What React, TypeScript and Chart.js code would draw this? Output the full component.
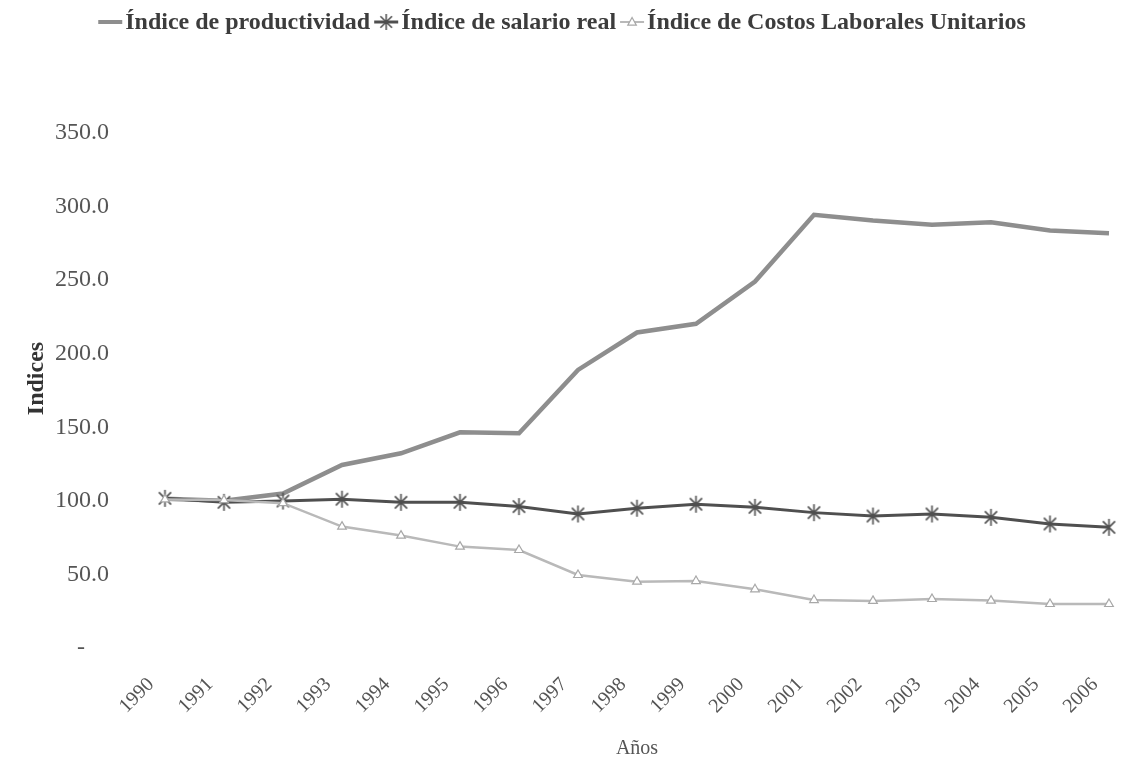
import React, { useEffect, useRef } from "react";
import { Chart, registerables } from "chart.js";

Chart.register(...registerables);

const years = ["1990","1991","1992","1993","1994","1995","1996","1997","1998","1999","2000","2001","2002","2003","2004","2005","2006"];
const productividad = [101.5, 100.0, 105.0, 124.4, 132.3, 146.6, 146.0, 189.0, 214.4, 220.3, 249.0, 294.4, 290.5, 287.6, 289.4, 283.7, 281.9];
const salarioReal = [101.7, 99.0, 99.9, 101.1, 99.0, 99.0, 96.1, 91.1, 95.0, 97.7, 95.6, 92.0, 89.7, 91.1, 88.8, 84.3, 82.0];
const costosLaborales = [101.0, 100.5, 98.4, 82.5, 76.4, 68.9, 66.6, 49.6, 45.1, 45.5, 39.9, 32.6, 32.0, 33.3, 32.2, 29.9, 29.9];
const seriesNames = ["Índice de productividad", "Índice de salario real", "Índice de Costos Laborales Unitarios"];
const yTicks = { min: 0, max: 350, step: 50 };
const yTitle = "Indices";
const xTitle = "Años";

const FONT = "'Liberation Serif', 'Times New Roman', serif";
const C_PROD = "#8e8e8e";
const C_SAL = "#4f4f4f";
const C_COST = "#b9b9b9";

function makeStar(color: string, size: number, lw: number): HTMLCanvasElement {
  const c = document.createElement("canvas");
  c.width = size;
  c.height = size;
  const g = c.getContext("2d")!;
  g.strokeStyle = color;
  g.lineWidth = lw;
  const m = size / 2;
  const r = size / 2 - 1;
  const d = r * 0.72;
  g.beginPath();
  g.moveTo(m, m - r); g.lineTo(m, m + r);
  g.moveTo(m - d, m - d); g.lineTo(m + d, m + d);
  g.moveTo(m - d, m + d); g.lineTo(m + d, m - d);
  g.stroke();
  return c;
}

function drawTriangle(ctx: CanvasRenderingContext2D, x: number, y: number, r: number, stroke: string) {
  ctx.beginPath();
  ctx.moveTo(x, y - r);
  ctx.lineTo(x + r * 0.95, y + r * 0.7);
  ctx.lineTo(x - r * 0.95, y + r * 0.7);
  ctx.closePath();
  ctx.fillStyle = "#ffffff";
  ctx.fill();
  ctx.strokeStyle = stroke;
  ctx.lineWidth = 1.2;
  ctx.stroke();
}

export default function App() {
  const ref = useRef<HTMLCanvasElement | null>(null);

  useEffect(() => {
    if (!ref.current) return;
    const star = makeStar(C_SAL, 19, 1.6);
    const legendStar = makeStar(C_SAL, 18, 1.5);

    const legendPlugin = {
      id: "customLegend",
      afterDraw(chart: any) {
        const ctx: CanvasRenderingContext2D = chart.ctx;
        ctx.save();
        ctx.font = `bold 24px ${FONT}`;
        ctx.textBaseline = "middle";
        const sampleW = 24;
        const gap = 3;
        const itemGap = 4;
        const widths = seriesNames.map((n) => ctx.measureText(n).width);
        const total = widths.reduce((a, b) => a + b, 0) + seriesNames.length * (sampleW + gap) + itemGap * (seriesNames.length - 1);
        let x = 562 - total / 2;
        const y = 22;
        const styles = [
          { color: C_PROD, w: 4 },
          { color: C_SAL, w: 3 },
          { color: C_COST, w: 2 },
        ];
        seriesNames.forEach((name, i) => {
          ctx.strokeStyle = styles[i].color;
          ctx.lineWidth = styles[i].w;
          ctx.beginPath();
          ctx.moveTo(x, y);
          ctx.lineTo(x + sampleW, y);
          ctx.stroke();
          if (i === 1) ctx.drawImage(legendStar, x + sampleW / 2 - legendStar.width / 2, y - legendStar.height / 2);
          if (i === 2) drawTriangle(ctx, x + sampleW / 2, y, 4.5, "#a8a8a8");
          ctx.fillStyle = "#3c3c3c";
          ctx.textAlign = "left";
          ctx.fillText(name, x + sampleW + gap, y + 1);
          x += sampleW + gap + widths[i] + itemGap;
        });
        ctx.restore();
      },
    };

    const chart = new Chart(ref.current, {
      type: "line",
      data: {
        labels: years,
        datasets: [
          {
            label: seriesNames[0],
            data: productividad,
            borderColor: C_PROD,
            borderWidth: 4.5,
            pointRadius: 0,
            pointHoverRadius: 0,
            tension: 0,
            order: 3,
          },
          {
            label: seriesNames[1],
            data: salarioReal,
            borderColor: C_SAL,
            borderWidth: 3,
            pointStyle: star as any,
            pointRadius: 9,
            tension: 0,
            order: 2,
          },
          {
            label: seriesNames[2],
            data: costosLaborales,
            borderColor: C_COST,
            borderWidth: 2.5,
            pointStyle: "triangle",
            pointRadius: 5,
            pointBorderWidth: 1.2,
            pointBorderColor: "#a8a8a8",
            pointBackgroundColor: "#ffffff",
            tension: 0,
            order: 1,
          },
        ],
      },
      options: {
        responsive: false,
        animation: false,
        devicePixelRatio: 1,
        layout: { padding: { top: 133, right: 11, left: 0, bottom: 0 } },
        plugins: {
          legend: { display: false },
          tooltip: { enabled: false },
        },
        scales: {
          x: {
            type: "category",
            offset: false,
            grid: { display: false, drawTicks: false },
            border: { display: false },
            ticks: {
              autoSkip: false,
              maxRotation: 45,
              minRotation: 45,
              padding: 25,
              labelOffset: -14,
              color: "#555555",
              font: { family: FONT, size: 20 },
            },
            title: {
              display: true,
              text: xTitle,
              color: "#555555",
              font: { family: FONT, size: 20, lineHeight: 0.8 },
              padding: { top: 0, bottom: 0 },
            },
            afterFit(scale: any) {
              scale.height = 109;
              scale.paddingLeft = 0;
              scale.paddingRight = 0;
            },
          },
          y: {
            min: yTicks.min,
            max: yTicks.max,
            grid: { display: false, drawTicks: false },
            border: { display: false },
            ticks: {
              stepSize: yTicks.step,
              padding: 56,
              color: "#555555",
              font: { family: FONT, size: 24 },
              callback: (v: any) => (Number(v) === 0 ? "-\u2003" : Number(v).toFixed(1)),
            },
            title: {
              display: true,
              text: "\u2003" + yTitle,
              color: "#333333",
              font: { family: FONT, size: 24, weight: "bold" },
              padding: { top: 22, bottom: 0 },
            },
            afterFit(scale: any) {
              scale.width = 165;
            },
          },
        },
      },
      plugins: [legendPlugin],
    });
    return () => chart.destroy();
  }, []);

  return (
    <div style={{ position: "fixed", left: 0, top: 0, width: 1121, height: 757, background: "#ffffff" }}>
      <canvas ref={ref} width={1121} height={757} style={{ display: "block", width: 1121, height: 757 }} />
    </div>
  );
}
